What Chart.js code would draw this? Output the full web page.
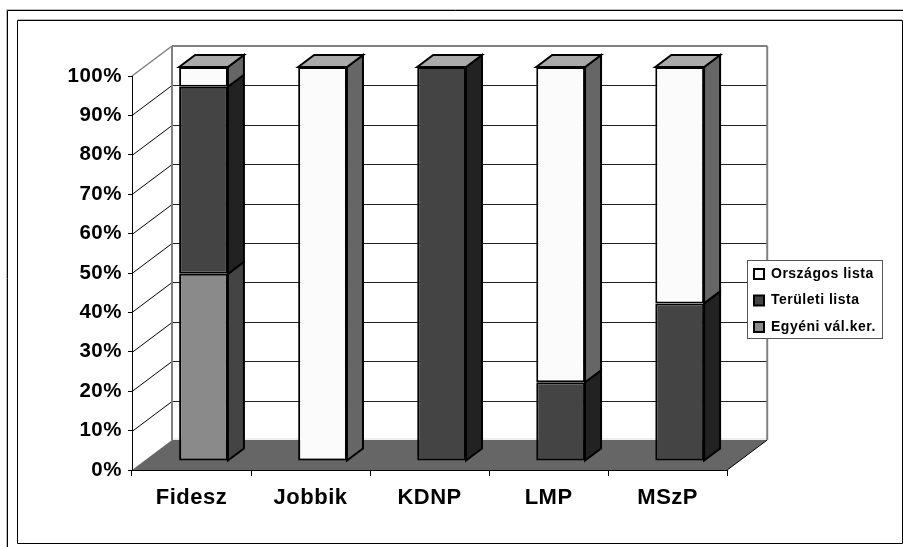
<!DOCTYPE html>
<html>
<head>
<meta charset="utf-8">
<script src="https://cdn.jsdelivr.net/npm/chart.js@4"></script>
<style>
  html, body { margin: 0; padding: 0; background: #fff; }
  #box { position: relative; width: 903px; height: 547px; }
  canvas { position: absolute; left: 0; top: 0; }
</style>
</head>
<body>
<div id="box"><canvas id="chart" width="903" height="547"></canvas></div>
<script>
const categories = ['Fidesz', 'Jobbik', 'KDNP', 'LMP', 'MSzP'];
const egyeni = [47.5, 0, 0, 0, 0];
const teruleti = [47.5, 0, 100, 20, 40];
const orszagos = [5, 100, 0, 80, 60];

const font = 'Liberation Sans, Arial, sans-serif';

// 3d look: depth of the room and of the bars
const wallDX = 40, wallDY = -30;
const barShiftX = 12, barShiftY = -9;
const barDX = 16, barDY = -12;
const legendPad = 12.5;

function poly(ctx, pts, fill, stroke, lw) {
  ctx.beginPath();
  pts.forEach((p, i) => i ? ctx.lineTo(p[0], p[1]) : ctx.moveTo(p[0], p[1]));
  ctx.closePath();
  if (fill) { ctx.fillStyle = fill; ctx.fill(); }
  if (stroke) { ctx.strokeStyle = stroke; ctx.lineWidth = lw; ctx.stroke(); }
}

function line(ctx, x1, y1, x2, y2, color, lw) {
  ctx.beginPath();
  ctx.moveTo(x1, y1);
  ctx.lineTo(x2, y2);
  ctx.strokeStyle = color;
  ctx.lineWidth = lw;
  ctx.stroke();
}

const room = {
  id: 'room',
  afterLayout(chart) {
    const lg = chart.legend;
    lg.left = 754 - legendPad;
    lg.right = 882;
    lg.top = 254.5;
    lg.bottom = 547;
  },
  beforeDraw(chart) {
    const ctx = chart.ctx;
    const a = chart.chartArea;
    const y = chart.scales.y;

    // frames round the picture
    ctx.save();
    line(ctx, 6.5, 9.5, 903, 9.5, '#bbb', 1);
    line(ctx, 6.5, 9.5, 6.5, 547, '#bbb', 1);
    line(ctx, 7.5, 10.5, 903, 10.5, '#000', 1);
    line(ctx, 7.5, 10.5, 7.5, 547, '#000', 1);
    line(ctx, 17.5, 19.5, 902, 19.5, '#bbb', 1);
    line(ctx, 17.5, 20.5, 902.5, 20.5, '#000', 1);
    line(ctx, 17.5, 20.5, 17.5, 543.5, '#000', 1);
    line(ctx, 902.5, 20.5, 902.5, 543.5, '#000', 1);
    line(ctx, 17.5, 543.5, 902.5, 543.5, '#000', 1);

    // floor
    poly(ctx, [[a.left, a.bottom], [a.left + wallDX, a.bottom + wallDY],
      [a.right + wallDX, a.bottom + wallDY], [a.right, a.bottom]], '#666666');
    line(ctx, a.left + wallDX, a.bottom + wallDY - 1, a.right + wallDX, a.bottom + wallDY - 1, '#dddddd', 1);
    line(ctx, a.right, a.bottom, a.right + wallDX, a.bottom + wallDY, '#000', 1);

    // grid on side wall and back wall
    y.ticks.forEach(t => {
      if (t.value === 0 || t.value === 100) return;
      const py = Math.round(y.getPixelForValue(t.value)) + 0.5;
      line(ctx, a.left, py, a.left + wallDX, py + wallDY, '#000', 1);
      line(ctx, a.left + wallDX, py + wallDY, a.right + wallDX, py + wallDY, '#222', 1);
    });

    // wall edges
    line(ctx, a.left, a.top, a.left + wallDX, a.top + wallDY, '#808080', 1.5);
    line(ctx, a.left + wallDX, a.top + wallDY, a.right + wallDX, a.top + wallDY, '#808080', 2);
    line(ctx, a.left + wallDX, a.top + wallDY, a.left + wallDX, a.bottom + wallDY, '#808080', 2);
    line(ctx, a.right + wallDX, a.top + wallDY, a.right + wallDX, a.bottom + wallDY, '#808080', 2);

    // legend frame, under the legend itself
    ctx.fillStyle = '#fff';
    ctx.fillRect(747.5, 260.5, 135, 78);
    ctx.strokeStyle = '#555';
    ctx.lineWidth = 1;
    ctx.strokeRect(747.5, 260.5, 135, 78);
    ctx.restore();

    // the reference text runs a little wide
    ctx.letterSpacing = '0.5px';
  },
  beforeDatasetsDraw(chart) {
    const ctx = chart.ctx;
    ctx.save();
    ctx.translate(barShiftX, barShiftY);
    // top and side of every stacked piece, bottom piece first
    chart.data.datasets.forEach((ds, d) => {
      chart.getDatasetMeta(d).data.forEach((bar, i) => {
        if (!ds.data[i]) return;
        const p = bar.getProps(['x', 'y', 'base', 'width'], true);
        const r = p.x + p.width / 2, l = p.x - p.width / 2;
        poly(ctx, [[r, p.base], [r + barDX, p.base + barDY], [r + barDX, p.y + barDY], [r, p.y]],
          ds.sideColor, '#000', 2);
        const isTop = chart.data.datasets.slice(d + 1).every(o => !o.data[i]);
        if (isTop) {
          poly(ctx, [[l, p.y], [l + barDX, p.y + barDY], [r + barDX, p.y + barDY], [r, p.y]],
            '#aaaaaa', '#000', 2);
        }
      });
    });
  },
  afterDatasetsDraw(chart) {
    chart.ctx.restore();
  }
};

new Chart(document.getElementById('chart'), {
  type: 'bar',
  data: {
    labels: categories,
    datasets: [
      { label: 'Egyéni vál.ker.', data: egyeni, backgroundColor: '#8a8a8a', sideColor: '#444444', borderColor: '#000', borderWidth: 2, borderSkipped: false },
      { label: 'Területi lista', data: teruleti, backgroundColor: '#444444', sideColor: '#222222', borderColor: '#000', borderWidth: 2, borderSkipped: false },
      { label: 'Országos lista', data: orszagos, backgroundColor: '#fbfbfb', sideColor: '#666666', borderColor: '#000', borderWidth: 2, borderSkipped: false }
    ]
  },
  plugins: [room],
  options: {
    responsive: false,
    animation: false,
    events: [],
    barPercentage: 0.41,
    categoryPercentage: 1,
    layout: { padding: { top: 76, bottom: 0, left: 0, right: 39 } },
    plugins: {
      tooltip: { enabled: false },
      legend: {
        position: 'right',
        reverse: true,
        align: 'start',
        labels: {
          boxWidth: 10,
          boxHeight: 10,
          padding: legendPad,
          color: '#000',
          font: { family: font, size: 14, weight: 'bold' }
        }
      }
    },
    scales: {
      x: {
        stacked: true,
        afterFit(s) { s.height = 77; },
        grid: { drawOnChartArea: false, tickLength: 6, color: c => c.index === 5 ? '#808080' : '#000', lineWidth: 1 },
        border: { color: '#000', width: 1 },
        ticks: { color: '#000', padding: 9, font: { family: font, size: 22, weight: 'bold' } }
      },
      y: {
        stacked: true,
        min: 0,
        max: 100,
        afterFit(s) { s.width = 132; },
        grid: { drawOnChartArea: false, tickLength: 4, color: '#000', lineWidth: 1 },
        border: { color: '#000', width: 1 },
        ticks: {
          stepSize: 10,
          color: '#000',
          padding: 6,
          font: { family: font, size: 20.5, weight: 'bold' },
          callback: v => v + '%'
        }
      }
    }
  }
});
</script>
</body>
</html>
